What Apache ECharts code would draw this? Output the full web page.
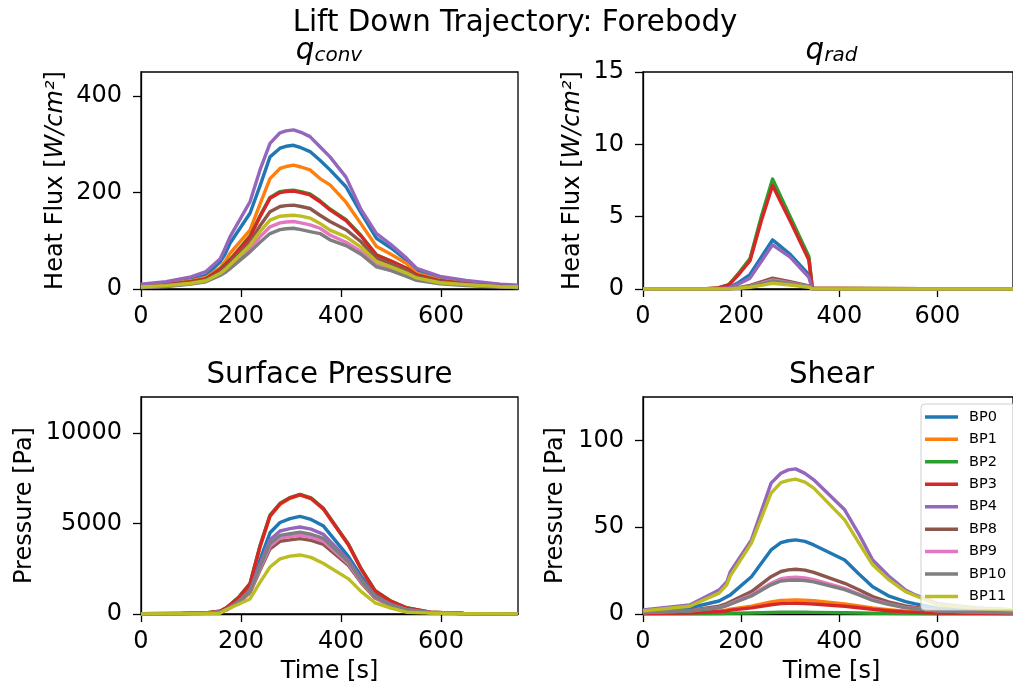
<!DOCTYPE html>
<html><head><meta charset="utf-8">
<script src="https://cdn.jsdelivr.net/npm/echarts@6/dist/echarts.min.js"></script>
<style>html,body{margin:0;padding:0;background:#fff;overflow:hidden}#c{width:1013px;height:691px}</style>
</head><body><div id="c"></div><script>
// ---------------- DATA ----------------
const seriesNames = ['BP0','BP1','BP2','BP3','BP4','BP8','BP9','BP10','BP11'];
const xTickValues = [0, 200, 400, 600];
const convTicks = [0, 200, 400];
const radTicks = [0, 5, 10, 15];
const presTicks = [0, 5000, 10000];
const shearTicks = [0, 50, 100];

// q_conv [W/cm^2]
const convTime = [0, 50, 100, 130, 158, 168, 178, 218, 238, 258, 278, 290, 305, 320, 338, 358, 378, 410, 440, 471, 500, 531, 551, 598, 650, 718, 754];
const conv_BP0  = [8, 12, 20, 28, 56, 72, 95, 157, 214, 274, 292, 296, 298, 293, 285, 267, 247, 212, 158, 105, 85, 60, 39, 22, 15, 9, 7];
const conv_BP1  = [6, 10, 17, 24, 44, 57, 74, 122, 176, 229, 250, 254, 257, 253, 247, 229, 216, 180, 135, 88, 72, 53, 33, 19, 13, 8, 6];
const conv_BP2  = [5, 9, 15, 21, 41, 51, 61, 110, 152, 190, 202, 204, 205, 202, 197, 183, 166, 144, 111, 71, 58, 43, 29, 17, 11, 7, 5];
const conv_BP3  = [5, 9, 15, 21, 40, 50, 60, 108, 150, 188, 200, 202, 203, 200, 195, 181, 164, 142, 110, 70, 58, 43, 29, 17, 11, 7, 5];
const conv_BP4  = [10, 15, 25, 36, 62, 84, 108, 181, 247, 302, 324, 328, 330, 325, 316, 295, 274, 232, 165, 115, 92, 64, 43, 26, 18, 10, 8];
const conv_BP8  = [4, 7, 13, 19, 35, 44, 55, 98, 131, 160, 171, 173, 174, 171, 167, 153, 140, 123, 98, 64, 52, 39, 26, 15, 10, 6, 4];
const conv_BP9  = [3, 6, 11, 16, 30, 37, 46, 84, 108, 129, 137, 139, 140, 137, 133, 126, 112, 97, 78, 50, 42, 30, 21, 12, 8, 5, 3];
const conv_BP10 = [3, 5, 10, 15, 28, 34, 42, 77, 97, 115, 123, 125, 126, 123, 119, 115, 102, 90, 72, 46, 38, 26, 18, 11, 7, 4, 3];
const conv_BP11 = [4, 7, 12, 17, 32, 40, 50, 91, 119, 143, 151, 152, 153, 151, 147, 136, 122, 108, 87, 57, 46, 33, 23, 13, 9, 5, 4];

// q_rad [W/cm^2]
const radTime = [0, 120, 150, 175, 195, 218, 241, 264, 300, 338, 345, 400, 754];
const rad_BP0  = [0, 0, 0.02, 0.1, 0.45, 1.0, 2.2, 3.4, 2.4, 1.0, 0.03, 0.02, 0];
const rad_BP1  = [0, 0, 0.05, 0.29, 1.05, 2.0, 4.85, 7.35, 4.85, 2.1, 0.05, 0.03, 0.01];
const rad_BP2  = [0, 0, 0.05, 0.3, 1.1, 2.1, 5.0, 7.6, 5.0, 2.25, 0.05, 0.03, 0.01];
const rad_BP3  = [0, 0, 0.05, 0.28, 1.0, 1.95, 4.7, 7.15, 4.7, 2.0, 0.05, 0.03, 0.01];
const rad_BP4  = [0, 0, 0.02, 0.08, 0.35, 0.75, 1.9, 3.05, 2.2, 0.8, 0.03, 0.02, 0];
const rad_BP8  = [0, 0, 0, 0.02, 0.1, 0.25, 0.5, 0.75, 0.5, 0.22, 0.01, 0, 0];
const rad_BP9  = [0, 0, 0, 0.02, 0.08, 0.2, 0.4, 0.62, 0.42, 0.18, 0.01, 0, 0];
const rad_BP10 = [0, 0, 0, 0.02, 0.07, 0.18, 0.36, 0.55, 0.38, 0.16, 0.01, 0, 0];
const rad_BP11 = [0, 0, 0, 0.01, 0.05, 0.12, 0.25, 0.4, 0.28, 0.12, 0.01, 0, 0];

// Surface pressure [Pa]
const presTime = [0, 80, 130, 158, 171, 195, 218, 238, 258, 278, 298, 318, 340, 365, 415, 440, 468, 500, 531, 578, 645, 754];
const pres_BP0  = [12, 20, 50, 120, 280, 780, 1470, 3000, 4490, 5060, 5270, 5395, 5230, 4860, 3170, 2100, 1100, 580, 280, 85, 25, 8];
const pres_BP1  = [15, 25, 60, 150, 340, 890, 1650, 3700, 5400, 6060, 6400, 6580, 6380, 5790, 3810, 2490, 1270, 690, 335, 100, 30, 10];
const pres_BP2  = [15, 25, 60, 150, 350, 920, 1690, 3780, 5470, 6120, 6440, 6620, 6420, 5840, 3860, 2520, 1300, 710, 345, 100, 30, 10];
const pres_BP3  = [15, 25, 60, 150, 340, 900, 1660, 3730, 5430, 6090, 6420, 6600, 6400, 5810, 3830, 2500, 1280, 700, 340, 100, 30, 10];
const pres_BP4  = [12, 20, 45, 110, 250, 700, 1320, 2750, 4110, 4590, 4720, 4810, 4690, 4400, 2980, 1950, 1000, 530, 250, 80, 25, 8];
const pres_BP8  = [10, 18, 40, 95, 225, 620, 1170, 2420, 3600, 4020, 4100, 4170, 4070, 3850, 2680, 1740, 880, 460, 220, 70, 20, 7];
const pres_BP9  = [10, 18, 40, 100, 230, 640, 1210, 2500, 3750, 4200, 4280, 4355, 4250, 4020, 2780, 1800, 920, 480, 230, 72, 22, 8];
const pres_BP10 = [10, 18, 40, 100, 240, 660, 1250, 2600, 3900, 4350, 4440, 4525, 4410, 4180, 2870, 1870, 950, 500, 240, 75, 22, 8];
const pres_BP11 = [5, 10, 20, 40, 250, 540, 830, 1750, 2600, 3050, 3200, 3265, 3130, 2790, 1945, 1250, 620, 330, 100, 50, 15, 5];

// Shear
const shearTime = [0, 95, 155, 171, 178, 221, 261, 281, 296, 311, 330, 348, 411, 440, 468, 500, 535, 555, 600, 680, 754];
const shear_BP0  = [1.5, 3.5, 7.5, 10, 11, 21.5, 36.9, 41.1, 42.2, 42.7, 41.8, 39.8, 31.1, 23, 15.7, 10.5, 7.1, 5.8, 3.5, 2, 1.5];
const shear_BP1  = [0.4, 0.8, 1.8, 2.3, 2.8, 4.5, 6.9, 7.8, 8.0, 8.1, 7.9, 7.6, 5.8, 4.6, 3.5, 2.5, 1.6, 1.3, 0.8, 0.5, 0.3];
const shear_BP2  = [0.1, 0.15, 0.3, 0.35, 0.4, 0.6, 0.9, 1.0, 1.0, 1.0, 1.0, 0.95, 0.75, 0.6, 0.45, 0.35, 0.25, 0.2, 0.12, 0.08, 0.05];
const shear_BP3  = [0.3, 0.6, 1.4, 1.8, 2.2, 3.5, 5.3, 6.0, 6.1, 6.2, 6.0, 5.8, 4.5, 3.6, 2.7, 1.9, 1.2, 1.0, 0.6, 0.4, 0.3];
const shear_BP4  = [2.3, 5.2, 13.8, 18.6, 24.4, 42.7, 75.4, 81.1, 83, 83.6, 81, 77.3, 60, 46, 31.1, 22, 13.8, 11, 6, 3.5, 2.5];
const shear_BP8  = [1, 2, 4.5, 6, 7.1, 12.9, 21.5, 24.5, 25.4, 25.8, 25.3, 24, 17.7, 14, 10, 7, 4.6, 3.8, 2.3, 1.3, 1];
const shear_BP9  = [0.9, 1.8, 3.8, 5, 6, 11, 17.7, 20.3, 20.9, 21.2, 20.8, 19.8, 14.8, 11.5, 8.3, 5.8, 3.8, 3.2, 1.9, 1.1, 0.8];
const shear_BP10 = [0.8, 1.7, 3.6, 4.8, 5.6, 10.4, 16.8, 19, 19.4, 19.6, 19.3, 18.5, 14, 11, 7.8, 5.5, 3.6, 3, 1.8, 1, 0.7];
const shear_BP11 = [1.8, 4.5, 12, 17, 22, 40.8, 69.6, 75.7, 77, 77.7, 76, 72.5, 54.2, 41, 28.3, 20, 12.9, 10.5, 5.5, 3.2, 2.3];

// ---------------- BUILD ----------------
const palette = ['#1f77b4','#ff7f0e','#2ca02c','#d62728','#9467bd','#8c564b','#e377c2','#7f7f7f','#bcbd22'];
const FONT = 'DejaVu Sans';
const panels = [
  {time: convTime, vals: [conv_BP0, conv_BP1, conv_BP2, conv_BP3, conv_BP4, conv_BP8, conv_BP9, conv_BP10, conv_BP11], ymax: 450, yt: convTicks},
  {time: radTime, vals: [rad_BP0, rad_BP1, rad_BP2, rad_BP3, rad_BP4, rad_BP8, rad_BP9, rad_BP10, rad_BP11], ymax: 15, yt: radTicks},
  {time: presTime, vals: [pres_BP0, pres_BP1, pres_BP2, pres_BP3, pres_BP4, pres_BP8, pres_BP9, pres_BP10, pres_BP11], ymax: 12000, yt: presTicks},
  {time: shearTime, vals: [shear_BP0, shear_BP1, shear_BP2, shear_BP3, shear_BP4, shear_BP8, shear_BP9, shear_BP10, shear_BP11], ymax: 125, yt: shearTicks}
];
const gridPos = [
  {left: 141, top: 72, width: 377, height: 217},
  {left: 643, top: 72, width: 377, height: 217},
  {left: 141, top: 397, width: 377, height: 217},
  {left: 643, top: 397, width: 377, height: 217}
];
const grids = [], xAxes = [], yAxes = [], series = [];
const axLine = {show: true, lineStyle: {color: '#000', width: 1.3}};
const plain = v => String(v);
panels.forEach((p, k) => {
  grids.push(Object.assign({show: true, borderColor: '#000', borderWidth: 1.3, backgroundColor: '#fff', containLabel: false}, gridPos[k]));
  xAxes.push({type: 'value', gridIndex: k, min: 0, max: 754,
    axisLine: axLine,
    axisTick: {show: true, length: 8, lineStyle: {color: '#000', width: 1.3}, customValues: xTickValues},
    axisLabel: {customValues: xTickValues, formatter: plain, fontSize: 24, color: '#000', fontFamily: FONT, margin: 16},
    splitLine: {show: false}});
  yAxes.push({type: 'value', gridIndex: k, min: 0, max: p.ymax,
    axisLine: axLine,
    axisTick: {show: true, length: 8, lineStyle: {color: '#000', width: 1.3}, customValues: p.yt},
    axisLabel: {customValues: p.yt, formatter: plain, fontSize: 24, color: '#000', fontFamily: FONT, margin: 19},
    splitLine: {show: false}});
  p.vals.forEach((v, i) => {
    series.push({type: 'line', name: seriesNames[i], xAxisIndex: k, yAxisIndex: k,
      data: p.time.map((t, j) => [t, v[j]]),
      showSymbol: false, symbol: 'none', clip: true,
      lineStyle: {width: 3.4, color: palette[i], join: 'round'},
      itemStyle: {color: palette[i]},
      emphasis: {disabled: true}, animation: false});
  });
});

function txt(x, y, text, size, extra) {
  return {type: 'text', x: x, y: y, silent: true,
    style: Object.assign({text: text, fontSize: size, fontFamily: FONT, fill: '#000', align: 'center', verticalAlign: 'middle'}, extra || {})};
}
const titleRich = {
  q: {fontSize: 29.3, fontStyle: 'italic', fontFamily: FONT, lineHeight: 29, fill: '#000', color: '#000'},
  s: {fontSize: 20, fontStyle: 'italic', fontFamily: FONT, lineHeight: 20, verticalAlign: 'bottom', fill: '#000', color: '#000'}
};
const labRich = {
  n: {fontSize: 24, fontFamily: FONT, fill: '#000', color: '#000'},
  i: {fontSize: 24, fontStyle: 'italic', fontFamily: FONT, fill: '#000', color: '#000'}
};
const graphics = [
  txt(515, 23.5, 'Lift Down Trajectory: Forebody', 29.3),
  txt(329, 51.5, '{q|q}{s|conv}', 29.3, {rich: titleRich}),
  txt(831.5, 51.5, '{q|q}{s|rad}', 29.3, {rich: titleRich}),
  txt(329.5, 375, 'Surface Pressure', 29.3),
  txt(831.5, 375, 'Shear', 29.3),
  txt(329.5, 672, 'Time [s]', 24),
  txt(831.5, 672, 'Time [s]', 24),
  Object.assign(txt(56, 180.5, '{n|Heat Flux [}{i|W/cm²}{n|]}', 24, {rich: labRich}), {rotation: Math.PI / 2}),
  Object.assign(txt(573, 180.5, '{n|Heat Flux [}{i|W/cm²}{n|]}', 24, {rich: labRich}), {rotation: Math.PI / 2}),
  Object.assign(txt(24.5, 505.5, 'Pressure [Pa]', 24), {rotation: Math.PI / 2}),
  Object.assign(txt(556, 505.5, 'Pressure [Pa]', 24), {rotation: Math.PI / 2})
];

const chart = echarts.init(document.getElementById('c'), null, {renderer: 'canvas'});
chart.setOption({
  animation: false,
  backgroundColor: '#fff',
  grid: grids, xAxis: xAxes, yAxis: yAxes, series: series,
  legend: {data: seriesNames, orient: 'vertical', left: 921, top: 404,
    icon: 'rect', itemWidth: 33, itemHeight: 3.5, itemGap: 7.45,
    padding: [5.4, 30, 6, 4],
    backgroundColor: 'rgba(255,255,255,0.8)', borderColor: '#d0d0d0', borderWidth: 1, borderRadius: 4,
    selectedMode: false,
    textStyle: {fontSize: 14.5, lineHeight: 14, color: '#000', fontFamily: FONT, padding: [0, 0, 0, 6]}},
  graphic: graphics
});
</script></body></html>
